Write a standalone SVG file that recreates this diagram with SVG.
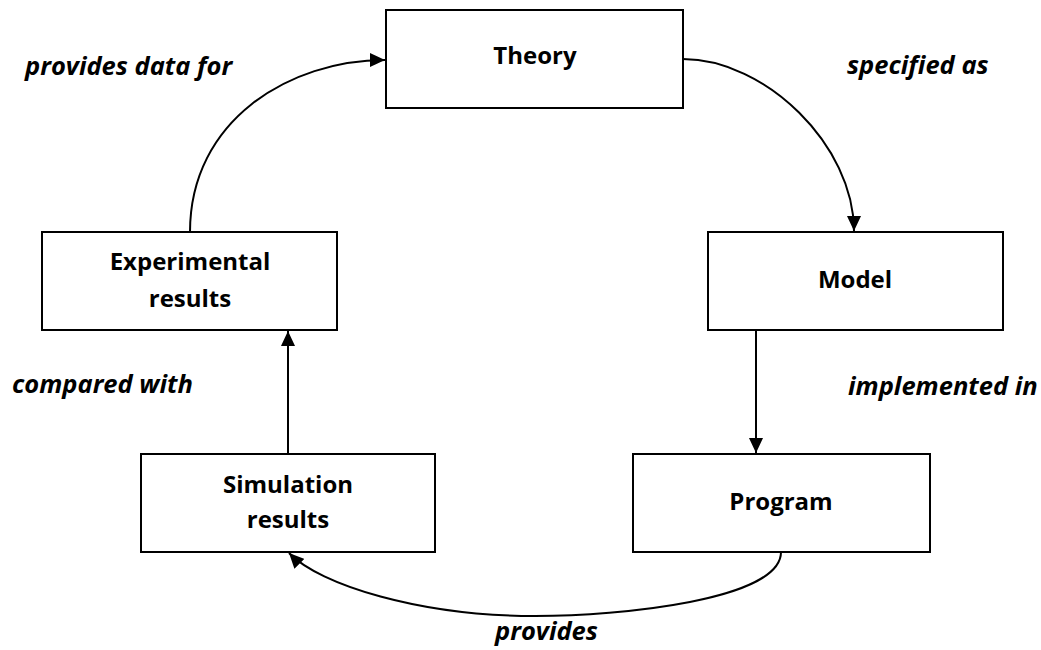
<svg xmlns="http://www.w3.org/2000/svg" width="1041" height="650" viewBox="0 0 1041 650">
<style>
.box{fill:#fff;stroke:#000;stroke-width:2}
.t{font-family:"Open Sans","Liberation Sans",sans-serif;font-weight:bold;font-size:24px;fill:#000;text-anchor:middle}
.l{font-family:"Open Sans","Liberation Sans",sans-serif;font-weight:bold;font-style:italic;font-size:25.5px;fill:#000}
.c{fill:none;stroke:#000;stroke-width:2}
</style>
<defs>
<marker id="ah" markerUnits="userSpaceOnUse" markerWidth="16" markerHeight="14" refX="15" refY="7" orient="auto">
<path d="M0,0 L15,7 L0,14 Z" fill="#000"/>
</marker>
</defs>
<rect width="1041" height="650" fill="#fff"/>
<g id="connectors">
<path class="c" d="M190,232 C190,120 290,60 385,60" marker-end="url(#ah)"/>
<path class="c" d="M683,59 C765,59 854,145 854,231" marker-end="url(#ah)"/>
<path class="c" d="M756,330 L756,453" marker-end="url(#ah)"/>
<path class="c" d="M781,552 C781,600 620,616 535,616 C420,616 320,585 289,553" marker-end="url(#ah)"/>
<path class="c" d="M288,454 L288,331" marker-end="url(#ah)"/>
</g>
<g id="theory"><rect class="box" x="386" y="10" width="297" height="98"/><text class="t" x="535" y="64">Theory</text></g>
<g id="model"><rect class="box" x="708" y="232" width="295" height="98"/><text class="t" x="855" y="288">Model</text></g>
<g id="program"><rect class="box" x="633" y="454" width="297" height="98"/><text class="t" x="781" y="510">Program</text></g>
<g id="simulation"><rect class="box" x="141" y="454" width="294" height="98"/><text class="t" x="288" y="493">Simulation</text><text class="t" x="288" y="528">results</text></g>
<g id="experimental"><rect class="box" x="42" y="232" width="295" height="98"/><text class="t" x="190" y="270">Experimental</text><text class="t" x="190" y="307">results</text></g>
<g id="labels">
<text class="l" x="25" y="75">provides data for</text>
<text class="l" x="847" y="74">specified as</text>
<text class="l" x="12" y="393">compared with</text>
<text class="l" x="848" y="395">implemented in</text>
<text class="l" x="495" y="640">provides</text>
</g>
</svg>
